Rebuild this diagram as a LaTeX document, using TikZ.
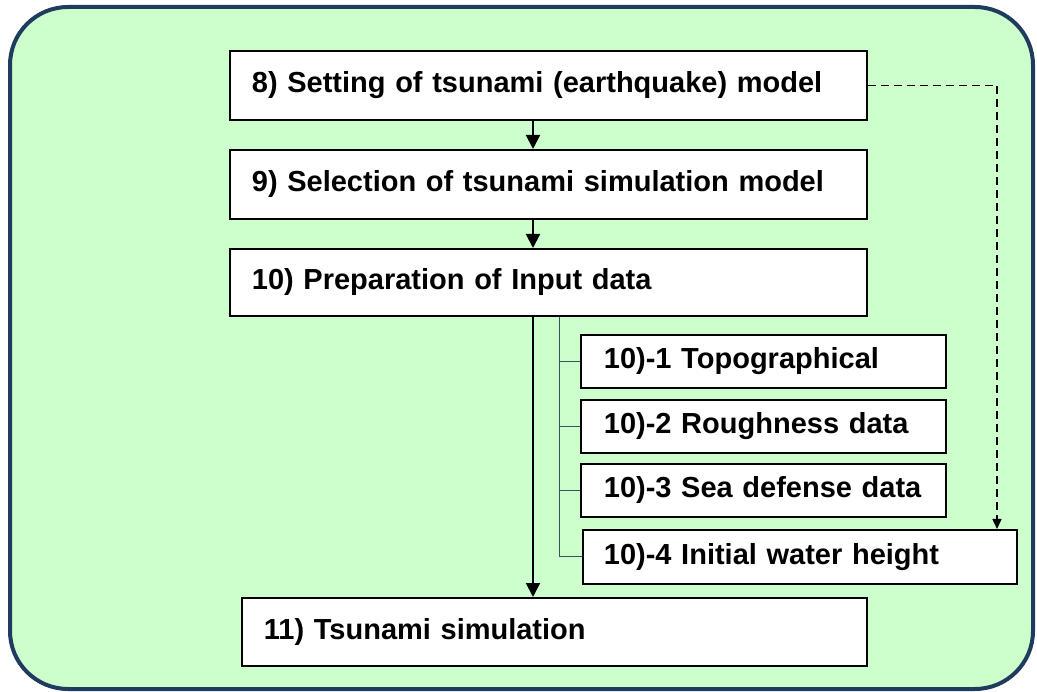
\documentclass[tikz,border=0pt]{standalone}
\usepackage{fontspec}
\setmainfont{Liberation Sans}
\usetikzlibrary{arrows.meta,calc}
\definecolor{panelfill}{HTML}{CCFFCC}
\definecolor{panelline}{HTML}{1F3B5E}
\definecolor{treeline}{HTML}{3C5064}
\begin{document}
\begin{tikzpicture}[x=1pt,y=-1pt,
  stepbox/.style={draw=black, line width=1.8pt, fill=white, anchor=north west,
    inner sep=0pt, align=left, font=\bfseries\fontsize{29}{32}\selectfont},
  subbox/.style={stepbox},
  flow/.style={line width=2pt, -{Triangle[length=14pt,width=14pt]}},
  tree/.style={draw=treeline, line width=1pt},
  hint/.style={line width=1.6pt, dash pattern=on 8pt off 5pt, -{Triangle[length=10pt,width=9pt]}}]
\useasboundingbox (0,0) rectangle (1037,692);

% rounded panel
\draw[panelline, line width=4pt, fill=panelfill, rounded corners=58pt]
  (10,7) rectangle (1033,689);

% main steps
\node[stepbox, minimum width=637pt, minimum height=69pt, text width=615pt] (b8) at (229,50)
  {\hspace*{11pt}8) Setting of tsunami (earthquake) model};
\node[stepbox, minimum width=637pt, minimum height=69pt, text width=615pt] (b9) at (229,149)
  {\hspace*{11pt}9) Selection of tsunami simulation model};
\node[stepbox, minimum width=637pt, minimum height=67pt, text width=615pt] (b10) at (229,248)
  {\hspace*{11pt}10) Preparation of Input data};
\node[stepbox, minimum width=625pt, minimum height=68pt, text width=603pt] (b11) at (241,597)
  {\hspace*{11pt}11) Tsunami simulation};

% input data items
\node[subbox, minimum width=365pt, minimum height=53pt, text width=345pt] (s1) at (580,334)
  {\hspace*{13pt}10)-1 Topographical};
\node[subbox, minimum width=365pt, minimum height=53pt, text width=345pt] (s2) at (580,399)
  {\hspace*{13pt}10)-2 Roughness data};
\node[subbox, minimum width=365pt, minimum height=53pt, text width=345pt] (s3) at (580,463)
  {\hspace*{13pt}10)-3 Sea defense data};
\node[subbox, minimum width=434pt, minimum height=54pt, text width=414pt] (s4) at (582,529)
  {\hspace*{11pt}10)-4 Initial water height};

% guide columns
\coordinate (ax) at (533,0);
\coordinate (tx) at (559,0);
\coordinate (dx) at (997,0);

% flow arrows
\draw[flow] (b8.south -| ax) -- (b9.north -| ax);
\draw[flow] (b9.south -| ax) -- (b10.north -| ax);
\draw[flow] (b10.south -| ax) -- (b11.north -| ax);

% branching of the input data
\draw[tree] (b10.south -| tx) -- (s4.west -| tx) -- (s4.west);
\draw[tree] (s1.west -| tx) -- (s1.west);
\draw[tree] (s2.west -| tx) -- (s2.west);
\draw[tree] (s3.west -| tx) -- (s3.west);

% model feeds the initial water height
\draw[hint] (b8.east) -- (dx |- b8.east) -- (s4.north -| dx);
\end{tikzpicture}
\end{document}
